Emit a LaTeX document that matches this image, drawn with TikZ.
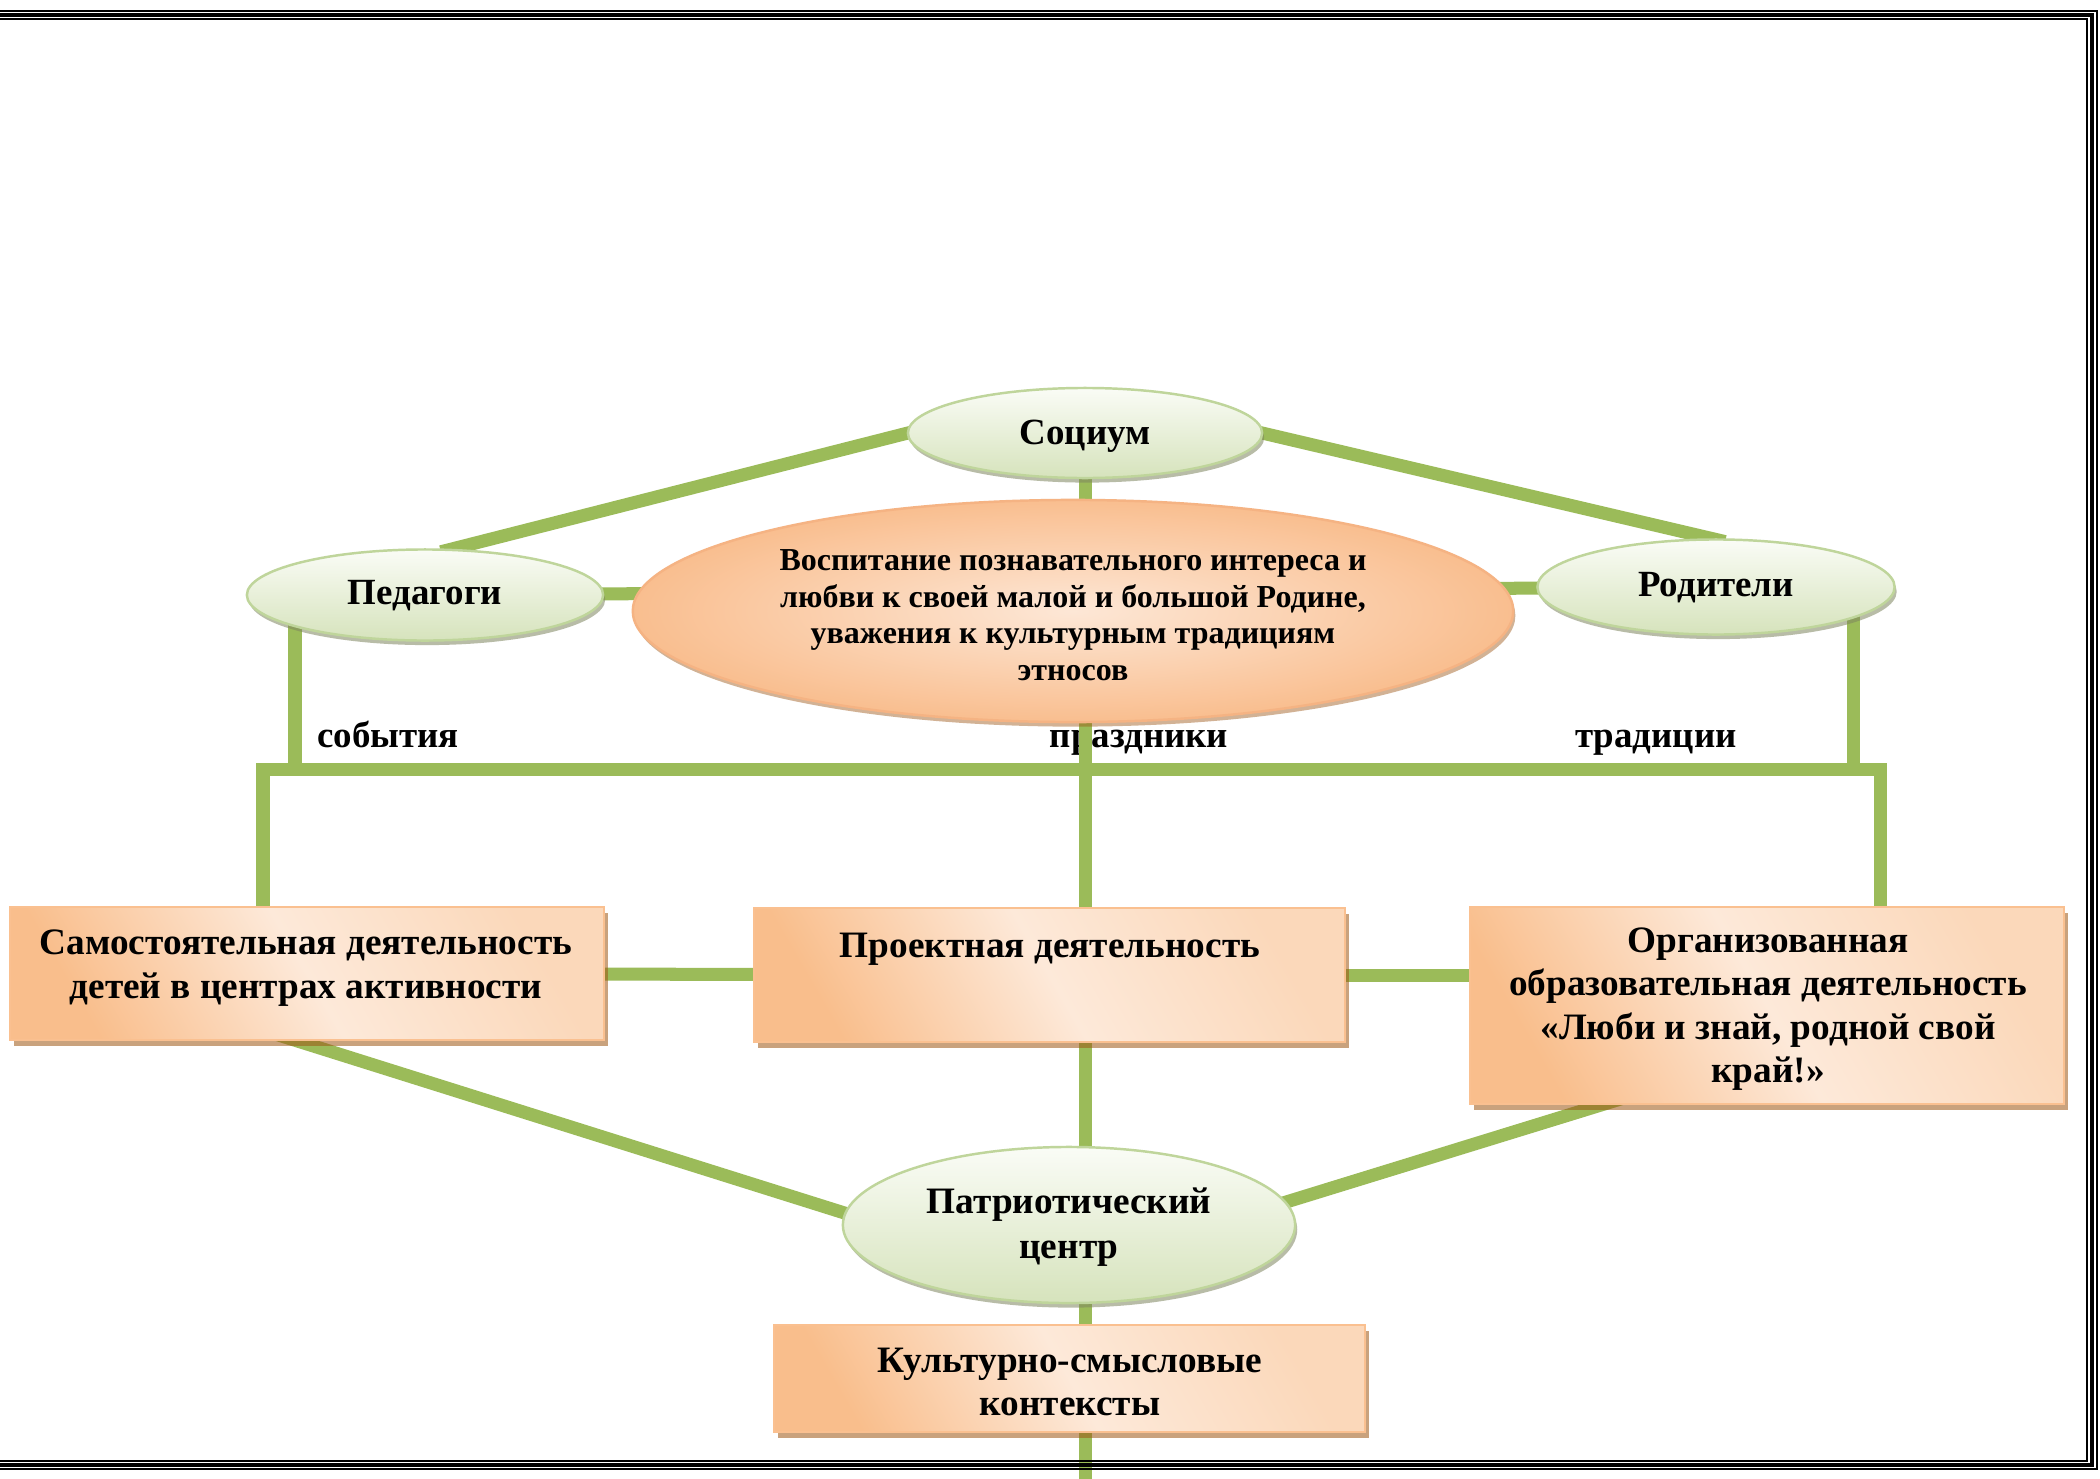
\documentclass[tikz,border=0pt]{standalone}
\usepackage{fontspec}
\setmainfont{Liberation Serif}
\usetikzlibrary{shapes.geometric,shadows,calc}
\pgfdeclarelayer{paper}
\pgfdeclarelayer{labels}
\pgfdeclarelayer{lines}
\pgfdeclarelayer{frame}
\pgfsetlayers{paper,labels,lines,main,frame}
\definecolor{gl}{HTML}{9BBB59}
\definecolor{gtop}{HTML}{FAFCF6}
\definecolor{gbot}{HTML}{D6E3BC}
\definecolor{gedge}{HTML}{BFD59B}
\definecolor{gshad}{HTML}{7F8660}
\definecolor{orA}{HTML}{F9BE8C}
\definecolor{orL}{HTML}{FDE9D9}
\definecolor{orB}{HTML}{FBD8BA}
\definecolor{oedge}{HTML}{FAC090}
\definecolor{oshad}{HTML}{9D5614}
\definecolor{cenout}{HTML}{F9BE8F}
\definecolor{cenin}{HTML}{FDE7D6}
\definecolor{cenedge}{HTML}{F5B383}
\newcommand\fntA{\fontsize{10.6}{12.3}\selectfont\bfseries}
\newcommand\fntE{\fontsize{10.5}{12.2}\selectfont\bfseries}
\newcommand\fntC{\fontsize{9.1}{10.4}\selectfont\bfseries}
\newcommand\fntP{\fontsize{10.6}{12.8}\selectfont\bfseries}
\tikzset{
  gline/.style={draw=gl, line width=3.7pt},
  gell/.style={ellipse, top color=gtop, bottom color=gbot, draw=gedge, line width=0.7pt,
    inner sep=0pt, outer sep=0pt,
    drop shadow={shadow xshift=0.6pt, shadow yshift=-1.3pt, fill=gshad, opacity=0.55}},
  cell/.style={ellipse, shading=radial, inner color=cenin, outer color=cenout, draw=cenedge,
    line width=0.7pt, inner sep=0pt, outer sep=0pt, align=center, font=\fntC,
    drop shadow={shadow xshift=0.6pt, shadow yshift=-1.3pt, fill=oshad, opacity=0.45}},
  obox/.style={rectangle, left color=orA, right color=orB, middle color=orL, shading angle=120,
    draw=oedge, line width=0.6pt, inner sep=0pt, outer sep=0pt,
    drop shadow={shadow xshift=1.2pt, shadow yshift=-1.8pt, fill=oshad, opacity=0.55}},
  btext/.style={align=center, font=\fntA, inner sep=0pt},
  lab/.style={font=\fntE, inner sep=0pt, anchor=base},
}
\begin{document}
\begin{tikzpicture}[x=0.01cm,y=-0.01cm]
\useasboundingbox (0,0) rectangle (2100,1479);
\begin{pgfonlayer}{paper}
\fill[white] (0,0) rectangle (2100,1479);
\end{pgfonlayer}

% ellipses
\node[gell, minimum width=3.54cm, minimum height=0.9cm] (soc) at (1085,433) {};
\node[gell, minimum width=3.56cm, minimum height=0.91cm] (ped) at (425,595) {};
\node[gell, minimum width=3.57cm, minimum height=0.95cm] (rod) at (1716,587) {};
\node[btext, font=\fntE] (soct) at (1085,436) {Социум};
\node[btext, font=\fntE] (pedt) at (425,596) {Педагоги};
\node[btext, font=\fntE] (rodt) at (1716,588) {Родители};
\node[cell, minimum width=8.8cm, minimum height=2.22cm] (cen) at (1073,611) {};
\node[btext, font=\fntC] (cent) at (1073,615)
  {Воспитание познавательного интереса и\\любви к своей малой и большой Родине,\\уважения к культурным традициям\\этносов};
\node[gell, minimum width=4.52cm, minimum height=1.56cm] (pat) at (1069,1225) {};
\node[btext, font=\fntP] (patt) at (1069,1227) {Патриотический\\центр};

% boxes
\node[obox, minimum width=5.94cm, minimum height=1.33cm] (lr) at (307,973.5) {};
\node[obox, minimum width=5.91cm, minimum height=1.34cm] (mr) at (1049.5,975) {};
\node[obox, minimum width=5.94cm, minimum height=1.97cm] (rr) at (1767,1005.5) {};
\node[obox, minimum width=5.91cm, minimum height=1.07cm] (br) at (1069.5,1378.5) {};
\node[btext] (lrt) at (306,968) {Самостоятельная деятельность\\детей в центрах активности};
\node[btext] (mrt) at (1050,949) {Проектная деятельность};
\node[btext] (rrt) at (1768,1009) {Организованная\\образовательная деятельность\\«Люби и знай, родной свой\\край!»};
\node[btext] (brt) at (1070,1382) {Культурно-смысловые\\контексты};

% labels
\begin{pgfonlayer}{labels}
\node[lab] (l1) at (388,747) {события};
\node[lab] (l2) at (1139,747) {праздники};
\node[lab] (l3) at (1656,747) {традиции};
\end{pgfonlayer}

% connectors
\coordinate (pedtop) at ($(ped.north)+(25,0)$);
\coordinate (barL) at (263,769);
\coordinate (barR) at (1880,769);
\coordinate (pv) at (295,769);
\coordinate (rv) at (1853,769);
\coordinate (bot) at (1085,1479);
\coordinate (lrd) at ($(lr.south)+(-38,-8)$);
\coordinate (rrd) at ($(rr.south)+(-137,-8)$);
\begin{pgfonlayer}{lines}
\draw[gline] ($(pedtop)!1.03!(soc.west)$) -- ($(soc.west)!1.02!(pedtop)$);
\draw[gline] ($(rod.north)!1.03!(soc.east)$) -- ($(soc.east)!1.02!(rod.north)$);
\draw[gline] (soc.center) -- (bot);
\draw[gline] (ped.center) -- (rod.center);
\draw[gline] (ped.center -| pv) -- (pv);
\draw[gline] (rod.center -| rv) -- (rv);
\draw[gline, line join=miter] (barL |- lr.north) -- (barL) -- (barR) -- (barR |- rr.north);
\draw[gline] (lr.center) -- (mr.center);
\draw[gline] (mr.center) -- (mr.center -| rr.center);
\draw[gline] (lrd) -- ($(lrd)!1.03!(pat.177)$);
\draw[gline] (rrd) -- ($(rrd)!1.03!(pat.6)$);
\end{pgfonlayer}

% page border
\begin{pgfonlayer}{frame}
\draw[line width=0.45pt] (0,10.8) -- (2097,10.8) -- (2097,1469) -- (0,1469);
\draw[line width=1pt] (0,15) -- (2092,15) -- (2092,1465) -- (0,1465);
\draw[line width=0.45pt] (0,19.2) -- (2087,19.2) -- (2087,1461) -- (0,1461);
\end{pgfonlayer}
\end{tikzpicture}
\end{document}
